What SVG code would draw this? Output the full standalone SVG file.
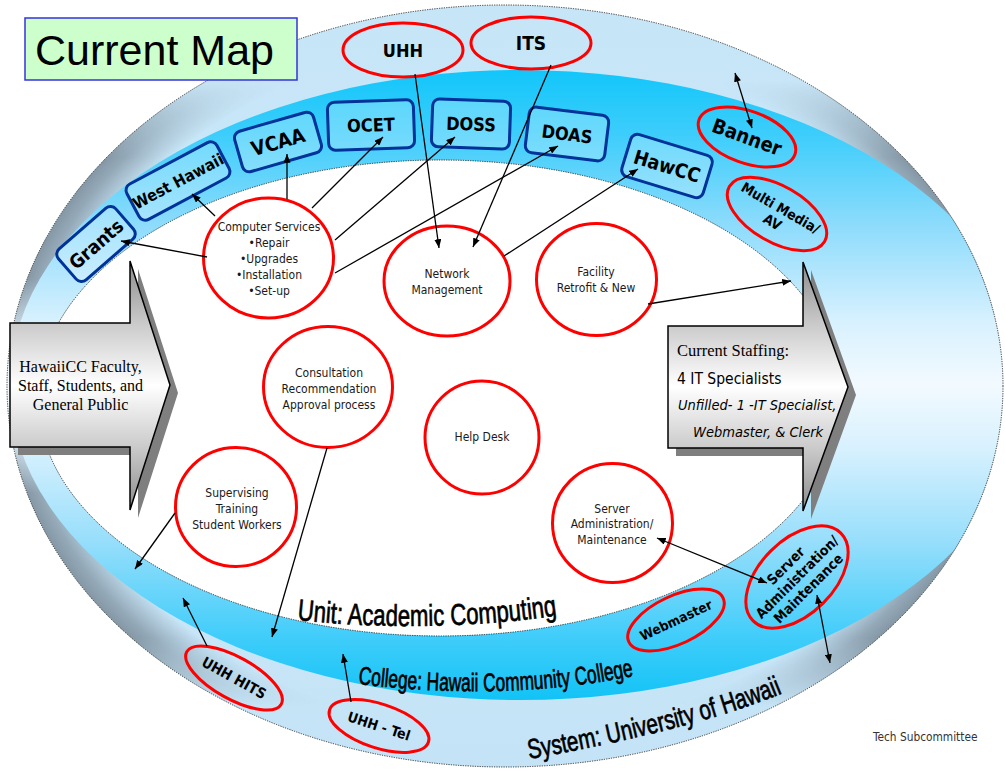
<svg xmlns="http://www.w3.org/2000/svg" width="1005" height="771" viewBox="0 0 1005 771">
<style>
.b{font-family:"DejaVu Sans Condensed","DejaVu Sans",sans-serif;font-stretch:condensed;font-weight:bold;fill:#000;text-anchor:middle}
.t{font-family:"DejaVu Sans Condensed","DejaVu Sans",sans-serif;font-stretch:condensed;font-size:12px;fill:#1a1a1a;text-anchor:middle}
.s{font-family:"Liberation Serif","Times New Roman",serif;fill:#000}
.w{font-family:"Liberation Sans",Arial,sans-serif;fill:#000;stroke:#000;stroke-width:0.7}
.box{fill:#fff;fill-opacity:0.25;stroke:#003399;stroke-width:3}
.red{fill:none;stroke:#ff0000;stroke-width:3}
.redw{fill:#fff;stroke:#ff0000;stroke-width:3}
.con{stroke:#000;stroke-width:1.3;fill:none}
.dot{fill:none;stroke:#222;stroke-width:0.9;stroke-dasharray:1.2 1.2}
</style>
<defs>
<linearGradient id="gSys" gradientUnits="userSpaceOnUse" x1="0" y1="5" x2="0" y2="767">
<stop offset="0" stop-color="#c6e5f7"/>
<stop offset="0.3" stop-color="#c9e7f8"/>
<stop offset="0.5" stop-color="#f3faff"/>
<stop offset="0.7" stop-color="#c9e7f8"/>
<stop offset="1" stop-color="#c4e3f6"/>
</linearGradient>
<radialGradient id="gRim" cx="0.5" cy="0.5" r="0.5">
<stop offset="0.9" stop-color="#7d8e9c" stop-opacity="0"/>
<stop offset="0.97" stop-color="#7d8e9c" stop-opacity="0.7"/>
<stop offset="1" stop-color="#7d8e9c" stop-opacity="0.9"/>
</radialGradient>
<linearGradient id="gMask" gradientUnits="userSpaceOnUse" x1="0" y1="5" x2="0" y2="767">
<stop offset="0.1" stop-color="#000"/>
<stop offset="0.2" stop-color="#fff"/>
<stop offset="0.36" stop-color="#fff"/>
<stop offset="0.45" stop-color="#000"/>
<stop offset="0.56" stop-color="#000"/>
<stop offset="0.64" stop-color="#fff"/>
<stop offset="0.83" stop-color="#fff"/>
<stop offset="0.92" stop-color="#000"/>
</linearGradient>
<mask id="mRim"><rect x="0" y="0" width="1005" height="771" fill="url(#gMask)"/></mask>
<linearGradient id="gCol" gradientUnits="userSpaceOnUse" x1="0" y1="70" x2="0" y2="700">
<stop offset="0" stop-color="#12c6fa"/>
<stop offset="0.1" stop-color="#3ccdfb"/>
<stop offset="0.25" stop-color="#8fdcfc"/>
<stop offset="0.4" stop-color="#d8f1fe"/>
<stop offset="0.5" stop-color="#f2faff"/>
<stop offset="0.6" stop-color="#d8f1fe"/>
<stop offset="0.75" stop-color="#96defb"/>
<stop offset="0.9" stop-color="#40cdfa"/>
<stop offset="1" stop-color="#12c3f6"/>
</linearGradient>
<clipPath id="cOut"><ellipse cx="505" cy="386" rx="498" ry="381"/></clipPath>
<linearGradient id="gArr" x1="0" y1="0" x2="0" y2="1">
<stop offset="0" stop-color="#8c8c8c"/>
<stop offset="0.25" stop-color="#cacaca"/>
<stop offset="0.5" stop-color="#ffffff"/>
<stop offset="0.75" stop-color="#cacaca"/>
<stop offset="1" stop-color="#8c8c8c"/>
</linearGradient>
<marker id="ah" viewBox="0 0 10 8" refX="10" refY="4" markerWidth="9" markerHeight="7" markerUnits="userSpaceOnUse" orient="auto-start-reverse">
<path d="M0,0 L10,4 L0,8 z" fill="#000"/>
</marker>
<path id="pUnit" d="M297,620 Q428,634 562,615"/>
<path id="pCol" d="M358,684 Q510,702 638,675"/>
<path id="pSys" d="M529,759 Q704,728 795,688"/>
</defs>

<g id="bands">
<ellipse cx="505" cy="386" rx="498" ry="381" fill="url(#gSys)"/>
<ellipse cx="505" cy="386" rx="498" ry="381" fill="url(#gRim)" mask="url(#mRim)"/>
<ellipse cx="520" cy="385" rx="510" ry="315" fill="url(#gCol)" clip-path="url(#cOut)"/>
<ellipse cx="505" cy="386" rx="498" ry="381" class="dot"/>
<ellipse cx="440" cy="398" rx="402" ry="238" fill="#fff"/>
<ellipse cx="440" cy="398" rx="402" ry="238" class="dot"/>
</g>

<g id="band-labels">
<text class="w" font-size="30"><textPath href="#pUnit" textLength="261" lengthAdjust="spacingAndGlyphs">Unit: Academic Computing</textPath></text>
<text class="w" font-size="25.5"><textPath href="#pCol" textLength="277" lengthAdjust="spacingAndGlyphs">College: Hawaii Community College</textPath></text>
<text class="w" font-size="27.5"><textPath href="#pSys" textLength="262" lengthAdjust="spacingAndGlyphs">System: University of Hawaii</textPath></text>
</g>

<g id="title">
<rect x="25" y="18" width="272" height="62" fill="#ccffcc" stroke="#3333dd" stroke-width="1.5"/>
<text x="35" y="65" font-family="Liberation Sans, Arial, sans-serif" font-size="43" fill="#000">Current Map</text>
</g>

<g id="audience">
<path d="M18,331 L138,331 L138,269 L178,393 L138,518 L138,455 L18,455 Z" fill="#7f7f7f"/>
<path d="M10,323 L130,323 L130,261 L170,385 L130,510 L130,447 L10,447 Z" fill="url(#gArr)" stroke="#000" stroke-width="1.5"/>
<text class="s" font-size="16" text-anchor="middle"><tspan x="80.5" y="372">HawaiiCC Faculty,</tspan><tspan x="80.5" y="391">Staff, Students, and</tspan><tspan x="80.5" y="410">General Public</tspan></text>
</g>

<g id="staffing">
<path d="M676,334 L811,334 L811,270 L856,395 L811,519 L811,456 L676,456 Z" fill="#7f7f7f"/>
<path d="M668,326 L803,326 L803,262 L848,387 L803,511 L803,448 L668,448 Z" fill="url(#gArr)" stroke="#000" stroke-width="1.5"/>
<text class="s" x="677" y="356" font-size="16.5">Current Staffing:</text>
<text x="677" y="384" font-family="DejaVu Sans Condensed, DejaVu Sans, sans-serif" font-stretch="condensed" font-size="15.5" fill="#000">4 IT Specialists</text>
<text x="678" y="410" font-family="DejaVu Sans Condensed, DejaVu Sans, sans-serif" font-stretch="condensed" font-style="italic" font-size="14.5" fill="#000">Unfilled- 1 -IT Specialist,</text>
<text x="693" y="437" font-family="DejaVu Sans Condensed, DejaVu Sans, sans-serif" font-stretch="condensed" font-style="italic" font-size="14.5" fill="#000">Webmaster, &amp; Clerk</text>
</g>

<g id="grants" transform="translate(96,244) rotate(-41)"><rect x="-38" y="-20.5" width="76" height="41" rx="7" class="box"/><text class="b" y="7" font-size="19">Grants</text></g>
<g id="west-hawaii" transform="translate(178,181) rotate(-28)"><rect x="-51" y="-20" width="102" height="40" rx="7" class="box"/><text class="b" y="6" font-size="16">West Hawaii</text></g>
<g id="vcaa" transform="translate(278,142) rotate(-16)"><rect x="-41" y="-21" width="82" height="42" rx="7" class="box"/><text class="b" y="7" font-size="20">VCAA</text></g>
<g id="ocet" transform="translate(371,125) rotate(-2)"><rect x="-43" y="-24" width="86" height="48" rx="7" class="box"/><text class="b" y="6.5" font-size="18">OCET</text></g>
<g id="doss" transform="translate(471,124) rotate(2)"><rect x="-39" y="-24" width="78" height="48" rx="7" class="box"/><text class="b" y="6.5" font-size="18">DOSS</text></g>
<g id="doas" transform="translate(567,134) rotate(7)"><rect x="-40" y="-23" width="80" height="46" rx="7" class="box"/><text class="b" y="6.5" font-size="18">DOAS</text></g>
<g id="hawcc" transform="translate(667,166) rotate(17)"><rect x="-42.5" y="-22" width="85" height="44" rx="7" class="box"/><text class="b" y="7" font-size="19.5">HawCC</text></g>

<g id="uhh"><ellipse cx="403" cy="50" rx="60" ry="27" class="red"/><text class="b" x="403" y="57" font-size="18">UHH</text></g>
<g id="its"><ellipse cx="531" cy="43" rx="60" ry="26" class="red"/><text class="b" x="531" y="50" font-size="19">ITS</text></g>
<g id="banner" transform="translate(747,137) rotate(20)"><ellipse rx="51" ry="26" class="red"/><text class="b" y="7" font-size="20">Banner</text></g>
<g id="multimedia" transform="translate(777,214) rotate(30)"><ellipse rx="55" ry="28" class="red" stroke-width="5"/><text class="b" font-size="14"><tspan x="0" y="-2">Multi Media/</tspan><tspan x="0" y="14">AV</tspan></text></g>
<g id="webmaster" transform="translate(676,620) rotate(-25)"><ellipse rx="52" ry="24" class="red" stroke-width="5"/><text class="b" y="5" font-size="13.5">Webmaster</text></g>
<g id="server-outer" transform="translate(797,577) rotate(-45)"><ellipse rx="62" ry="37" class="red"/><text class="b" font-size="14"><tspan x="0" y="-11">Server</tspan><tspan x="0" y="5">Administration/</tspan><tspan x="0" y="21">Maintenance</tspan></text></g>
<g id="uhh-hits" transform="translate(234,678) rotate(29)"><ellipse rx="54" ry="21" class="red"/><text class="b" y="5" font-size="14.5">UHH HITS</text></g>
<g id="uhh-tel" transform="translate(379,726) rotate(18)"><ellipse rx="52" ry="22" class="red"/><text class="b" y="5" font-size="14">UHH - Tel</text></g>

<g id="computer-services"><ellipse cx="268.5" cy="258" rx="65" ry="60" class="redw"/><text class="t"><tspan x="269" y="231">Computer Services</tspan><tspan x="269" y="247">•Repair</tspan><tspan x="269" y="263">•Upgrades</tspan><tspan x="269" y="279">•Installation</tspan><tspan x="269" y="295">•Set-up</tspan></text></g>
<g id="network"><ellipse cx="447" cy="281" rx="63" ry="55" class="redw"/><text class="t"><tspan x="447" y="278">Network</tspan><tspan x="447" y="294">Management</tspan></text></g>
<g id="facility"><ellipse cx="596.5" cy="279.5" rx="60" ry="56" class="redw"/><text class="t"><tspan x="596" y="276">Facility</tspan><tspan x="596" y="292">Retrofit &amp; New</tspan></text></g>
<g id="consultation"><ellipse cx="328" cy="387" rx="64.5" ry="60.5" class="redw"/><text class="t"><tspan x="329" y="377">Consultation</tspan><tspan x="329" y="393">Recommendation</tspan><tspan x="329" y="409">Approval process</tspan></text></g>
<g id="help-desk"><ellipse cx="482" cy="437.5" rx="57" ry="56.5" class="redw" stroke-width="6"/><text class="t" x="482" y="441" font-size="12.5">Help Desk</text></g>
<g id="supervising"><ellipse cx="236" cy="507" rx="60.5" ry="59.5" class="redw"/><text class="t"><tspan x="237" y="497">Supervising</tspan><tspan x="237" y="513">Training</tspan><tspan x="237" y="529">Student Workers</tspan></text></g>
<g id="server-inner"><ellipse cx="612.5" cy="523" rx="60" ry="59.5" class="redw"/><text class="t"><tspan x="612" y="513">Server</tspan><tspan x="612" y="528">Administration/</tspan><tspan x="612" y="544">Maintenance</tspan></text></g>

<g id="connectors" class="con">
<path d="M207,257 L121,241" marker-end="url(#ah)"/>
<path d="M215,216 L192,194" marker-end="url(#ah)"/>
<path d="M287,199 L287,154" marker-end="url(#ah)"/>
<path d="M312,208 L383,137" marker-end="url(#ah)"/>
<path d="M335,240 L455,137" marker-end="url(#ah)"/>
<path d="M335,273 L558,146" marker-end="url(#ah)"/>
<path d="M415,74 L439,248" marker-end="url(#ah)"/>
<path d="M551,65 L473,247" marker-end="url(#ah)"/>
<path d="M504,256 L638,169" marker-end="url(#ah)"/>
<path d="M735,73 L752,128" marker-start="url(#ah)" marker-end="url(#ah)"/>
<path d="M648,304 L791,281" marker-end="url(#ah)"/>
<path d="M175,513 L135,569" marker-end="url(#ah)"/>
<path d="M327,448 L272,637" marker-end="url(#ah)"/>
<path d="M207,646 L183,598" marker-end="url(#ah)"/>
<path d="M351,702 L343,654" marker-end="url(#ah)"/>
<path d="M657,538 L767,583" marker-start="url(#ah)" marker-end="url(#ah)"/>
<path d="M817,595 L830,663" marker-start="url(#ah)" marker-end="url(#ah)"/>
</g>

<text x="873" y="741" font-family="DejaVu Sans Condensed, DejaVu Sans, sans-serif" font-stretch="condensed" font-size="11.8" fill="#333">Tech Subcommittee</text>
</svg>
